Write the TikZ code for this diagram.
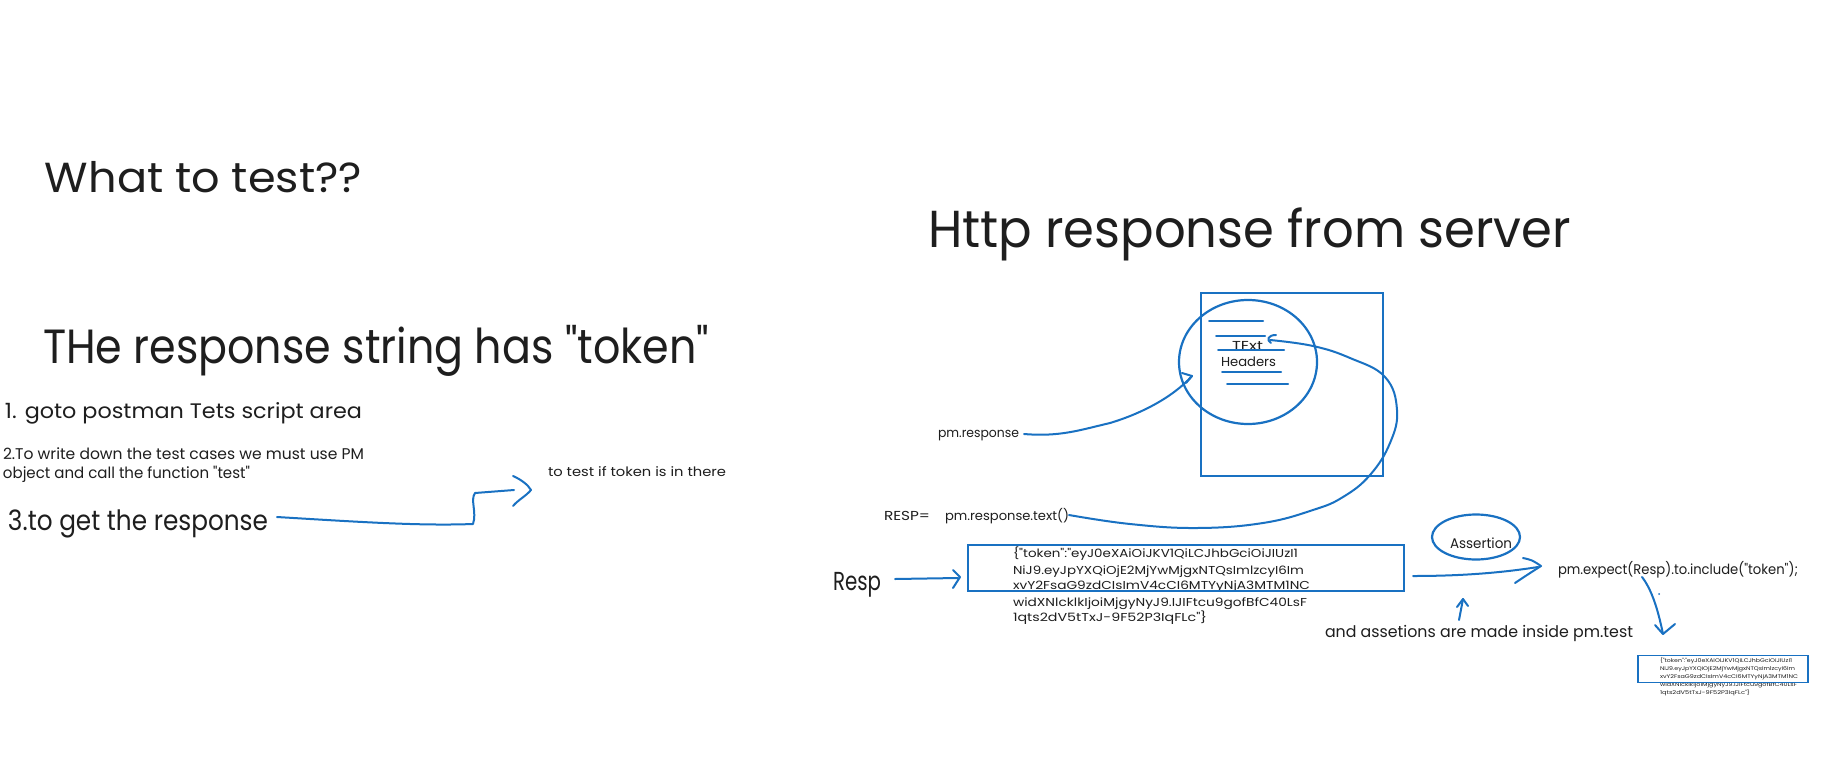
\documentclass[tikz,border=0pt]{standalone}
\usepackage{fontspec}
\setmainfont{Poppins}[Ligatures=TeXOff]
\usepackage{graphicx}
\usetikzlibrary{shapes.geometric}
\definecolor{inkblue}{HTML}{1971C2}
\definecolor{ink}{HTML}{1E1E1E}
\newcommand{\fitw}[3]{\resizebox{#1pt}{\height}{\fontsize{#2}{#2}\selectfont #3}}
\begin{document}
\begin{tikzpicture}[x=1pt,y=-1pt,
  txt/.style={anchor=base west, inner sep=0pt, outer sep=0pt, text=ink},
  stroke/.style={draw=inkblue, line width=2pt, line cap=round, line join=round},
  boxline/.style={draw=inkblue, line width=2.3pt, inner sep=0pt, outer sep=0pt}]
\useasboundingbox (0,0) rectangle (1835,771);
\fill[white] (0,0) rectangle (1835,771);

% ---- left texts
\node[txt] (what) at (45,192) {\fitw{317}{42}{What to test??}};
\node[txt] (thersp) at (43,363) {\fitw{666}{48}{THe response string has "token"}};
\node[txt] (step1) at (5,418) {\fitw{357}{21}{1. goto postman Tets script area}};
\node[txt] (step2a) at (3,459) {\fitw{361}{15.5}{2.To write down the test cases we must use PM}};
\node[txt] (step2b) at (3,478) {\fitw{247}{15.5}{object and call the function "test"}};
\node[txt] (step3) at (8,530) {\fitw{260}{28}{3.to get the response}};
\node[txt] (totest) at (548,476) {\fitw{178}{13}{to test if token is in there}};

% ---- right texts
\node[txt] (http) at (928,247) {\fitw{643}{52}{Http response from server}};
\node[txt] (pmresp) at (938,437) {\fitw{81}{13}{pm.response}};
\node[txt] (respeq) at (884,520) {\fitw{46}{13}{RESP=}};
\node[txt] (textcall) at (945,520) {\fitw{124}{13}{pm.response.text()}};
\node[txt] (resp) at (833,590) {\fitw{48}{26}{Resp}};
\node[txt] (assert) at (1450,548) {\fitw{62}{14}{Assertion}};
\node[txt] (expect) at (1558,574) {\fitw{240}{14}{pm.expect(Resp).to.include("token");}};
\node[txt] (assetions) at (1325,637) {\fitw{308}{16}{and assetions are made inside pm.test}};
\node[txt] (textlbl) at (1232,350) {\fitw{31}{13}{TExt}};
\node[txt] (headers) at (1221,366) {\fitw{55}{13}{Headers}};

% JSON text
\node[txt] (j1) at (1013,557) {\fitw{285}{11.5}{\{"token":"eyJ0eXAiOiJKV1QiLCJhbGciOiJIUzI1}};
\node[txt] (j2) at (1013,574) {\fitw{291}{11.5}{NiJ9.eyJpYXQiOjE2MjYwMjgxNTQsImlzcyI6Im}};
\node[txt] (j3) at (1013,589) {\fitw{297}{11.5}{xvY2FsaG9zdCIsImV4cCI6MTYyNjA3MTM1NC}};
\node[txt] (j4) at (1013,606) {\fitw{294}{11.5}{widXNlcklkIjoiMjgyNyJ9.IJIFtcu9gofBfC40LsF}};
\node[txt] (j5) at (1013,621) {\fitw{194}{11.5}{1qts2dV5tTxJ-9F52P3IqFLc"\}}};

% small JSON copy
\node[txt] (s1) at (1660,662) {\fitw{132}{5.3}{\{"token":"eyJ0eXAiOiJKV1QiLCJhbGciOiJIUzI1}};
\node[txt] (s2) at (1660,670) {\fitw{135}{5.3}{NiJ9.eyJpYXQiOjE2MjYwMjgxNTQsImlzcyI6Im}};
\node[txt] (s3) at (1660,678) {\fitw{138}{5.3}{xvY2FsaG9zdCIsImV4cCI6MTYyNjA3MTM1NC}};
\node[txt] (s4) at (1660,686) {\fitw{137}{5.3}{widXNlcklkIjoiMjgyNyJ9.IJIFtcu9gofBfC40LsF}};
\node[txt] (s5) at (1660,694) {\fitw{90}{5.3}{1qts2dV5tTxJ-9F52P3IqFLc"\}}};

% ---- shapes
\node[boxline, draw, minimum width=182pt, minimum height=183pt] (respbox) at (1292,384.5) {};
\node[boxline, ellipse, draw, line width=2.2pt, minimum width=138pt, minimum height=124pt] (hcircle) at (1248,362) {};
\draw[stroke] (1209,321) -- (1263,321);
\draw[stroke] (1216,336) -- (1265,336);
\draw[stroke] (1218,350) -- (1284,350);
\draw[stroke] (1222,372) -- (1281,372);
\draw[stroke] (1227,384) -- (1288,384);
\node[boxline, draw, line width=2pt, minimum width=436pt, minimum height=46pt] (jsonbox) at (1186,568) {};
\node[boxline, ellipse, draw, line width=2.2pt, minimum width=88pt, minimum height=45pt] (assertell) at (1476,537) {};
\node[boxline, draw, line width=1.6pt, minimum width=170pt, minimum height=27pt] (smallbox) at (1723,669) {};

% ---- connector end points
\coordinate (a3s) at (277,517);
\coordinate (a3t) at (531,490);
\coordinate (pms) at (1024,434);
\coordinate (pmt) at (1192,376);
\coordinate (txs) at (1069,515);
\coordinate (txt) at (1270,340);
\coordinate (rps) at (895,579);
\coordinate (rpt) at (960,577);
\coordinate (exs) at (1413,576);
\coordinate (ext) at (1541,566);
\coordinate (ups) at (1459,620);
\coordinate (upt) at (1463,599);
\coordinate (dns) at (1642,577);
\coordinate (dnt) at (1663,634);

% A: step 3 arrow
\draw[stroke] (a3s) .. controls (360,522) and (420,526) .. (473,524) .. controls (477,512) and (470,500) .. (475,493) -- (514,490);
\draw[stroke] (513,476) .. controls (522,480) and (528,485) .. (a3t) .. controls (526,496) and (518,500) .. (513,506);

% B: pm.response to circle
\draw[stroke] (pms) .. controls (1060,437) and (1080,430) .. (1110,423) .. controls (1140,414) and (1172,398) .. (pmt);
\draw[stroke] (1182,373) -- (pmt) -- (1186,383);

% C: text() to TExt
\draw[stroke] plot[smooth, tension=0.7] coordinates {(txs) (1130,524) (1197,528) (1263,523) (1313,510) (1343,497) (1370,475) (1390,443) (1397,410) (1385,377) (1350,358) (1313,346) (txt)};
\draw[stroke] (1276,335) .. controls (1268,335) and (1266,340) .. (1271,343);

% D: Resp to JSON box
\draw[stroke] (rps) -- (958,578);
\draw[stroke] (953,570) .. controls (957,573) .. (rpt) .. controls (957,582) .. (953,588);

% E: JSON box to pm.expect
\draw[stroke] (exs) .. controls (1460,576) and (1500,573) .. (1538,567);
\draw[stroke] (1523,558) .. controls (1532,560) .. (ext) .. controls (1530,573) .. (1515,583);

% F: up arrow
\draw[stroke] (ups) -- (upt);
\draw[stroke] (1457,607) -- (upt) -- (1468,606);

% G: down arrow
\draw[stroke] (dns) .. controls (1652,590) and (1658,610) .. (dnt);
\draw[stroke] (1655,625) -- (dnt) -- (1675,624);
\fill[inkblue] (1659,594) circle (1pt);
\end{tikzpicture}
\end{document}
